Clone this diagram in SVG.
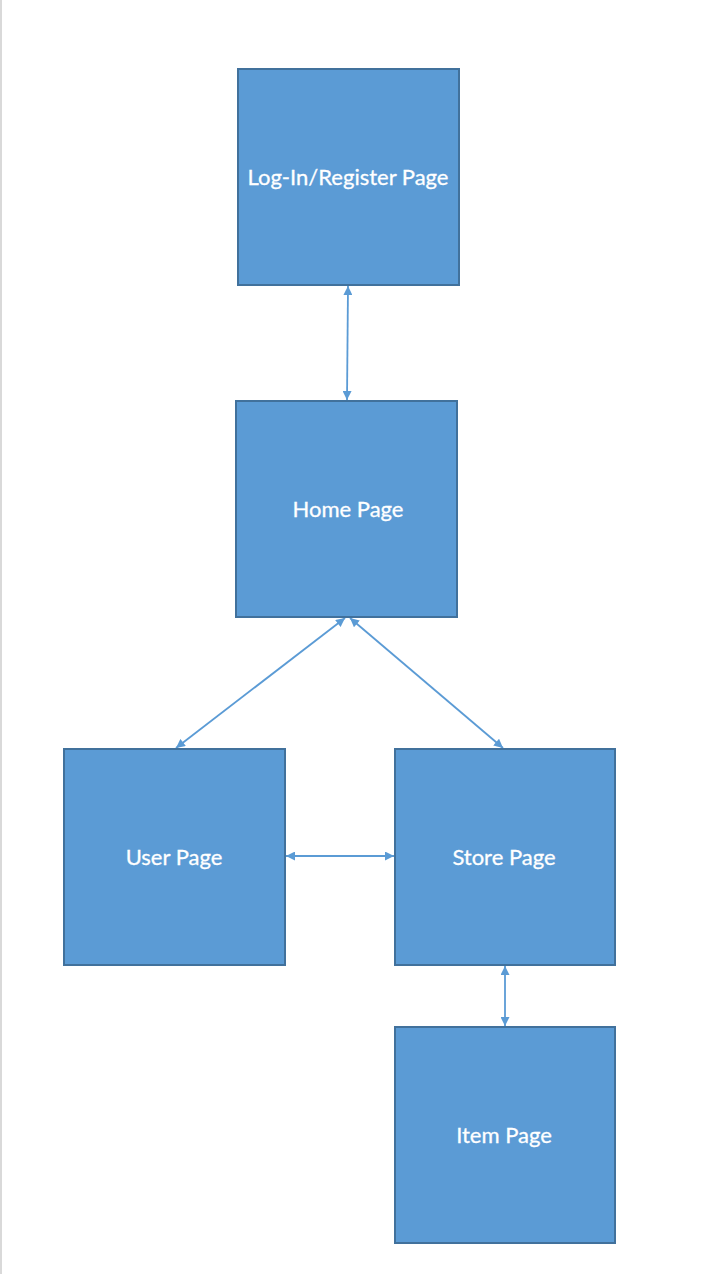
<svg xmlns="http://www.w3.org/2000/svg" width="718" height="1274" viewBox="0 0 718 1274">
<style>
.box{fill:#5B9BD5;stroke:#41719C;stroke-width:2}
.lbl{fill:#ffffff;font-family:Lato,"Open Sans",sans-serif;font-size:22px;text-anchor:middle;dominant-baseline:central;stroke:#ffffff;stroke-width:0.3}
.con{stroke:#5B9BD5;stroke-width:1.8;fill:none;marker-start:url(#ah);marker-end:url(#ah)}
</style>
<defs>
<marker id="ah" viewBox="0 0 10 10" refX="10" refY="5" markerWidth="5.5" markerHeight="5" orient="auto-start-reverse" markerUnits="strokeWidth">
<path d="M0,0 L10,5 L0,10 z" fill="#5B9BD5"/>
</marker>
</defs>
<rect x="0" y="0" width="718" height="1274" fill="#ffffff"/>
<rect x="0" y="0" width="2" height="1274" fill="#d9d9d9"/>
<g id="connectors">
<line class="con" x1="348" y1="286" x2="347" y2="400"/>
<line class="con" x1="345" y1="618" x2="176" y2="748"/>
<line class="con" x1="350" y1="618" x2="503" y2="748"/>
<line class="con" x1="286" y1="856" x2="394" y2="856"/>
<line class="con" x1="505" y1="966" x2="505" y2="1026"/>
</g>
<g id="login">
<rect class="box" x="238" y="69" width="221" height="216"/>
<text class="lbl" x="348" y="176">Log-In/Register Page</text>
</g>
<g id="home">
<rect class="box" x="236" y="401" width="221" height="216"/>
<text class="lbl" x="348" y="508">Home Page</text>
</g>
<g id="user">
<rect class="box" x="64" y="749" width="221" height="216"/>
<text class="lbl" x="174" y="856">User Page</text>
</g>
<g id="store">
<rect class="box" x="395" y="749" width="220" height="216"/>
<text class="lbl" x="504" y="856">Store Page</text>
</g>
<g id="item">
<rect class="box" x="395" y="1027" width="220" height="216"/>
<text class="lbl" x="504" y="1134">Item Page</text>
</g>
</svg>
